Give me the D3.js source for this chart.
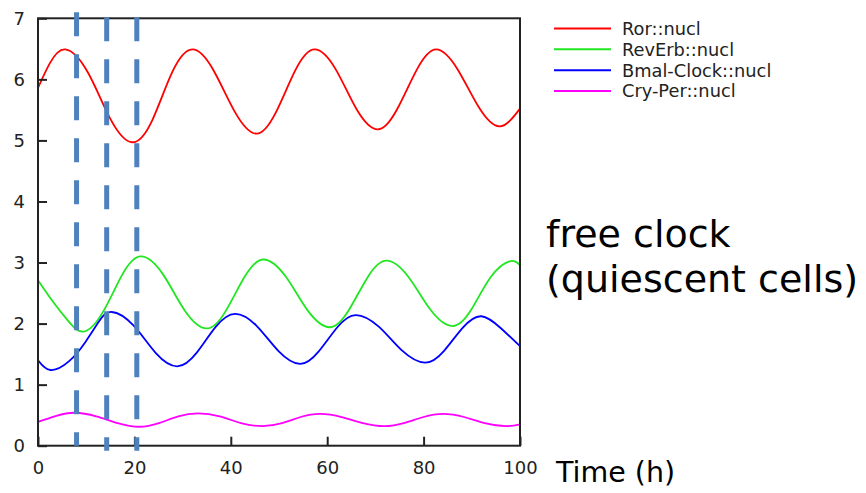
<!DOCTYPE html>
<html>
<head>
<meta charset="utf-8">
<script src="https://cdn.jsdelivr.net/npm/d3@7"></script>
<style>
  html, body { margin: 0; padding: 0; background: #fff; }
  svg { display: block; }
  .tick text { font-family: "DejaVu Sans", sans-serif; font-size: 18px; fill: #222; }
  .legend text { font-family: "DejaVu Sans", sans-serif; font-size: 17.8px; fill: #222; }
  .note { font-family: "DejaVu Sans", sans-serif; fill: #000; }
</style>
</head>
<body>
<svg id="chart" width="866" height="493"></svg>
<script>
// Nuclear concentrations over time, [time (h), level] pairs
const ror = [[0,5.86],[2.5,6.27],[5.7,6.49],[10.3,6.12],[14.9,5.37],[19.5,4.97],[23.7,5.33],[27.8,6.11],[32,6.49],[36.4,6.15],[40.9,5.46],[45.3,5.11],[49.3,5.45],[53.4,6.15],[57.4,6.49],[61.8,6.16],[66.1,5.51],[70.5,5.18],[74.5,5.51],[78.6,6.16],[82.6,6.49],[87,6.17],[91.4,5.55],[95.8,5.23],[100,5.52]];
const revErb = [[0,2.71],[3,2.37],[6.3,2.04],[9.5,1.87],[13.4,2.18],[17.4,2.79],[21.3,3.10],[25.9,2.81],[30.4,2.22],[35,1.92],[38.9,2.20],[42.9,2.77],[46.8,3.05],[51.4,2.77],[55.9,2.22],[60.5,1.94],[64.4,2.21],[68.4,2.76],[72.3,3.03],[76.9,2.76],[81.4,2.23],[86,1.96],[89.9,2.23],[93.9,2.76],[97.8,3.02],[100,2.96]];
const bmalClock = [[0,1.40],[2.6,1.24],[6.4,1.38],[9.85,1.70],[12.6,2.03],[15.3,2.19],[19.8,1.97],[24.4,1.52],[28.9,1.30],[32.9,1.52],[36.9,1.95],[40.9,2.16],[45.4,1.96],[49.9,1.55],[54.4,1.34],[58.2,1.54],[62.1,1.94],[65.9,2.14],[70.7,1.95],[75.5,1.56],[80.3,1.36],[84.2,1.55],[88.1,1.93],[92,2.12],[96.1,1.92],[100,1.63]];
const cryPer = [[0,0.39],[3.8,0.49],[7.6,0.54],[12.1,0.48],[16.5,0.37],[21,0.31],[25.1,0.37],[29.1,0.48],[33.2,0.53],[37.7,0.48],[42.1,0.37],[46.6,0.32],[50.6,0.37],[54.5,0.47],[58.5,0.52],[63,0.47],[67.4,0.37],[71.9,0.32],[75.9,0.37],[80,0.47],[84,0.52],[88.4,0.47],[92.7,0.37],[97.1,0.32],[100,0.35]];

const seriesNames = ["Ror::nucl", "RevErb::nucl", "Bmal-Clock::nucl", "Cry-Per::nucl"];
const seriesColors = ["#ff0000", "#22e622", "#0000ff", "#ff00ff"];
const seriesData = [ror, revErb, bmalClock, cryPer];

// Sampling times highlighted with dashed verticals
const markerTimes = [8, 14.25, 20.5];

const xTicks = [0, 20, 40, 60, 80, 100];
const yTicks = [0, 1, 2, 3, 4, 5, 6, 7];

const svg = d3.select("#chart");
const x = d3.scaleLinear().domain([0, 100]).range([38, 520]);
const y = d3.scaleLinear().domain([0, 7]).range([445.7, 18.3]);

// Curves (smooth spline through the sampled levels)
const line = d3.line().x(d => x(d[0])).y(d => y(d[1])).curve(d3.curveNatural);
const plot = svg.append("g");
seriesData.forEach((s, i) => {
  plot.append("path")
    .attr("d", line(s))
    .attr("fill", "none")
    .attr("stroke", seriesColors[i])
    .attr("stroke-width", 1.8)
    .attr("stroke-linejoin", "round");
});

// Frame and inward ticks
svg.append("rect")
  .attr("x", x(0)).attr("y", y(7))
  .attr("width", x(100) - x(0)).attr("height", y(0) - y(7))
  .attr("fill", "none").attr("stroke", "#222").attr("stroke-width", 2);

const yAxis = svg.append("g")
  .attr("transform", `translate(${x(0)},0)`)
  .call(d3.axisLeft(y).tickValues(yTicks).tickFormat(d3.format("d"))
    .tickSizeInner(-9).tickSizeOuter(0).tickPadding(13));
const xAxis = svg.append("g")
  .attr("transform", `translate(0,${y(0)})`)
  .call(d3.axisBottom(x).tickValues(xTicks).tickFormat(d3.format("d"))
    .tickSizeInner(-9).tickSizeOuter(0).tickPadding(16));
[yAxis, xAxis].forEach(a => {
  a.select(".domain").remove();
  a.selectAll(".tick line").attr("stroke", "#222").attr("stroke-width", 2);
});

// Dashed sampling markers
markerTimes.forEach((t, i) => {
  svg.append("line")
    .attr("x1", x(t)).attr("x2", x(t))
    .attr("y1", i === 0 ? 12.3 : 17.3)
    .attr("y2", i === 0 ? 445.7 : 450.7)
    .attr("stroke", "#4f81bd")
    .attr("stroke-width", 5)
    .attr("stroke-dasharray", "24,18");
});

// Legend
const legend = svg.append("g").attr("class", "legend");
const legendY = d3.scalePoint().domain(seriesNames).range([28.5, 91]);
seriesNames.forEach((name, i) => {
  const ly = legendY(name);
  legend.append("line")
    .attr("x1", 554).attr("x2", 611).attr("y1", ly).attr("y2", ly)
    .attr("stroke", seriesColors[i]).attr("stroke-width", 2);
  legend.append("text")
    .attr("x", 622).attr("y", ly).attr("dy", "0.36em")
    .text(name);
});

// Annotations
svg.append("text").attr("class", "note")
  .attr("x", 546).attr("y", 246.7).attr("font-size", 38)
  .text("free clock");
svg.append("text").attr("class", "note")
  .attr("x", 546).attr("y", 291.7).attr("font-size", 38)
  .text("(quiescent cells)");
svg.append("text").attr("class", "note")
  .attr("x", 556).attr("y", 482).attr("font-size", 28.5)
  .text("Time (h)");
</script>
</body>
</html>
